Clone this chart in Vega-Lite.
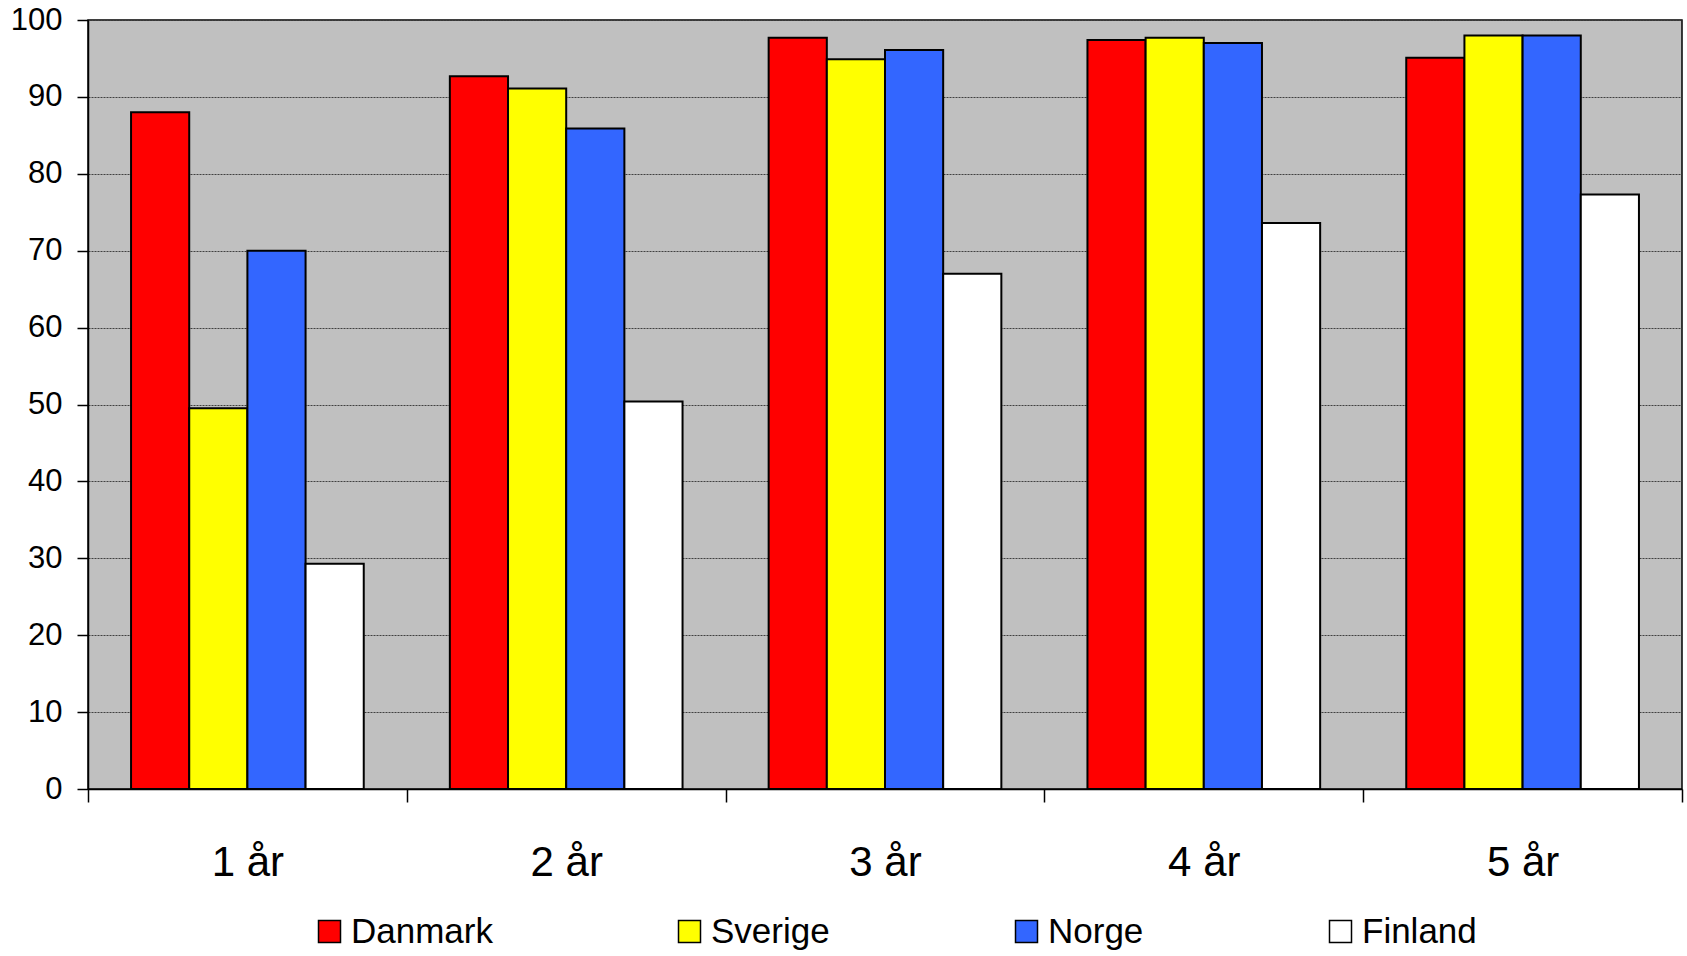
{
  "$schema": "https://vega.github.io/schema/vega-lite/v6.json",
  "autosize": {"type": "none"},
  "padding": {"left": 88, "top": 20, "right": 5, "bottom": 167},
  "width": 1594,
  "height": 769,
  "background": "white",
  "config": {
    "view": {"fill": "#C0C0C0", "stroke": "black", "strokeWidth": 1.5},
    "font": "Liberation Sans"
  },
  "data": {
    "values": [
      {"age": "1 år", "country": "Danmark", "value": 88.0},
      {"age": "1 år", "country": "Sverige", "value": 49.5},
      {"age": "1 år", "country": "Norge", "value": 70.0},
      {"age": "1 år", "country": "Finland", "value": 29.3},
      {"age": "2 år", "country": "Danmark", "value": 92.7},
      {"age": "2 år", "country": "Sverige", "value": 91.1},
      {"age": "2 år", "country": "Norge", "value": 85.9},
      {"age": "2 år", "country": "Finland", "value": 50.4},
      {"age": "3 år", "country": "Danmark", "value": 97.7},
      {"age": "3 år", "country": "Sverige", "value": 94.9},
      {"age": "3 år", "country": "Norge", "value": 96.1},
      {"age": "3 år", "country": "Finland", "value": 67.0},
      {"age": "4 år", "country": "Danmark", "value": 97.4},
      {"age": "4 år", "country": "Sverige", "value": 97.7},
      {"age": "4 år", "country": "Norge", "value": 97.0},
      {"age": "4 år", "country": "Finland", "value": 73.6},
      {"age": "5 år", "country": "Danmark", "value": 95.1},
      {"age": "5 år", "country": "Sverige", "value": 98.0},
      {"age": "5 år", "country": "Norge", "value": 98.0},
      {"age": "5 år", "country": "Finland", "value": 77.3}
    ]
  },
  "mark": {"type": "bar", "stroke": "black", "strokeWidth": 2},
  "encoding": {
    "x": {
      "field": "age",
      "type": "nominal",
      "sort": ["1 år", "2 år", "3 år", "4 år", "5 år"],
      "scale": {"paddingInner": 0, "paddingOuter": 0},
      "axis": {
        "title": null,
        "labelAngle": 0,
        "labelFontSize": 42,
        "labelColor": "black",
        "labelPadding": 40,
        "tickBand": "extent",
        "tickSize": 13,
        "tickColor": "black",
        "tickWidth": 1.5,
        "domainColor": "black",
        "domainWidth": 1.5,
        "grid": false
      }
    },
    "xOffset": {
      "field": "country",
      "type": "nominal",
      "sort": ["Danmark", "Sverige", "Norge", "Finland"],
      "scale": {"paddingInner": 0, "paddingOuter": 0.74}
    },
    "y": {
      "field": "value",
      "type": "quantitative",
      "scale": {"domain": [0, 100], "nice": false},
      "axis": {
        "title": null,
        "values": [0, 10, 20, 30, 40, 50, 60, 70, 80, 90, 100],
        "labelFontSize": 31,
        "labelColor": "black",
        "labelPadding": 15,
        "tickSize": 11,
        "tickColor": "black",
        "tickWidth": 1.5,
        "domainColor": "black",
        "domainWidth": 1.5,
        "grid": true,
        "gridColor": "#404040",
        "gridWidth": 1,
        "gridDash": [2, 1]
      }
    },
    "fill": {
      "field": "country",
      "type": "nominal",
      "sort": ["Danmark", "Sverige", "Norge", "Finland"],
      "scale": {
        "domain": ["Danmark", "Sverige", "Norge", "Finland"],
        "range": ["#FF0000", "#FFFF00", "#3366FF", "#FFFFFF"]
      },
      "legend": {
        "title": null,
        "orient": "none",
        "legendX": 224,
        "legendY": 894,
        "direction": "horizontal",
        "columns": 4,
        "gridAlign": "none",
        "columnPadding": 179,
        "padding": 0,
        "symbolType": "square",
        "symbolSize": 484,
        "symbolStrokeColor": "black",
        "symbolStrokeWidth": 1.5,
        "symbolOpacity": 1,
        "labelFontSize": 35,
        "labelColor": "black",
        "labelOffset": 4,
        "labelLimit": 400
      }
    }
  }
}
